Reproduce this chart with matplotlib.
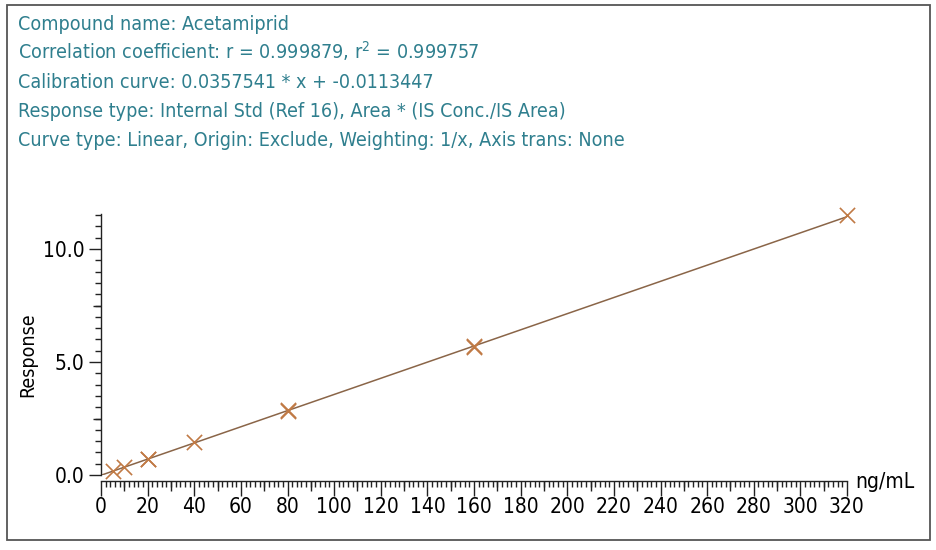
import matplotlib
matplotlib.use("Agg")
import matplotlib.pyplot as plt
from matplotlib.ticker import MultipleLocator, NullFormatter, FixedLocator
from matplotlib.patches import Rectangle

# ---- data ----
conc = [5, 10, 20, 20, 40, 80, 80, 160, 160, 320]
resp = [0.17, 0.34, 0.69, 0.73, 1.44, 2.82, 2.88, 5.66, 5.72, 11.52]
slope = 0.0357541
intercept = -0.0113447
line_x = [0, 320]
info_lines = [
    "Compound name: Acetamiprid",
    "Correlation coefficient: r = 0.999879, r$^2$ = 0.999757",
    "Calibration curve: 0.0357541 * x + -0.0113447",
    "Response type: Internal Std (Ref 16), Area * (IS Conc./IS Area)",
    "Curve type: Linear, Origin: Exclude, Weighting: 1/x, Axis trans: None",
]
x_ticks = list(range(0, 321, 20))
y_ticks = [0.0, 5.0, 10.0]
y_tick_labels = ["0.0", "5.0", "10.0"]

W, H = 937, 550
plt.rcParams['font.family'] = ['DejaVu Sans']
plt.rcParams['font.stretch'] = 'condensed'
plt.rcParams['mathtext.fontset'] = 'dejavusans'

fig = plt.figure(figsize=(W / 100, H / 100), dpi=100)
fig.patch.set_facecolor('white')

# outer frame
fig.patches.append(Rectangle((7 / W, 1 - 540 / H), (930 - 7) / W, (540 - 5) / H,
                             transform=fig.transFigure, fill=False,
                             edgecolor='#555555', linewidth=1.3))

teal = '#2f7f8e'
for i, t in enumerate(info_lines):
    fig.text(18 / W, 1 - (30 + 29 * i) / H, t, color=teal, fontsize=14.1,
             va='baseline', ha='left', fontstretch='condensed')

x0, x1 = 101, 847
y0, y1 = 475, 214
ax = fig.add_axes([x0 / W, 1 - y0 / H, (x1 - x0) / W, (y0 - y1) / H])
ax.set_xlim(0, 320)
ax.set_ylim(0, 11.55)

for s in ['top', 'right']:
    ax.spines[s].set_visible(False)
ax.spines['bottom'].set_position(('outward', 4))
for s in ['left', 'bottom']:
    ax.spines[s].set_color('#222222')
    ax.spines[s].set_linewidth(1.0)

lx = line_x
ly = [slope * v + intercept for v in lx]
ax.plot(lx, ly, color='#8a6548', linewidth=1.1, zorder=2)
ax.scatter(conc, resp, marker='x', s=120, color='#c07a45', linewidths=1.2,
           zorder=3, clip_on=False)

ax.xaxis.set_major_locator(FixedLocator(x_ticks))
ax.xaxis.set_minor_locator(MultipleLocator(2))
ax.tick_params(axis='x', which='major', length=11, width=1.0, color='#222222',
               labelsize=15, pad=1)
ax.tick_params(axis='x', which='minor', length=4, width=1.0, color='#222222')

ax.yaxis.set_major_locator(FixedLocator(y_ticks))
ax.set_yticklabels(y_tick_labels)
ax.yaxis.set_minor_locator(MultipleLocator(0.5))
ax.tick_params(axis='y', which='major', length=9, width=1.0, color='#222222',
               labelsize=15, pad=3)
ax.tick_params(axis='y', which='minor', length=4, width=1.0, color='#222222')
for lab in ax.get_xticklabels() + ax.get_yticklabels():
    lab.set_fontstretch('condensed')

# medium ticks
sx = ax.secondary_xaxis('bottom')
sx.spines['bottom'].set_visible(False)
sx.set_xticks(list(range(10, 320, 20)))
sx.tick_params(axis='x', length=7, width=1.0, color='#222222', labelbottom=False)
sx.xaxis.set_major_formatter(NullFormatter())
sx.spines['bottom'].set_position(('outward', 4))

sy = ax.secondary_yaxis('left')
sy.spines['left'].set_visible(False)
sy.set_yticks([2.5, 7.5])
sy.tick_params(axis='y', length=6, width=1.0, color='#222222', labelleft=False)
sy.yaxis.set_major_formatter(NullFormatter())

ax.set_ylabel('Response', fontsize=14, fontstretch='condensed')
ax.yaxis.set_label_coords(-0.086, 0.46)

fig.text(855 / W, 1 - 482 / H, 'ng/mL', fontsize=15, va='center', ha='left',
         fontstretch='condensed')

fig.savefig('out.png', dpi=100, facecolor='white')
